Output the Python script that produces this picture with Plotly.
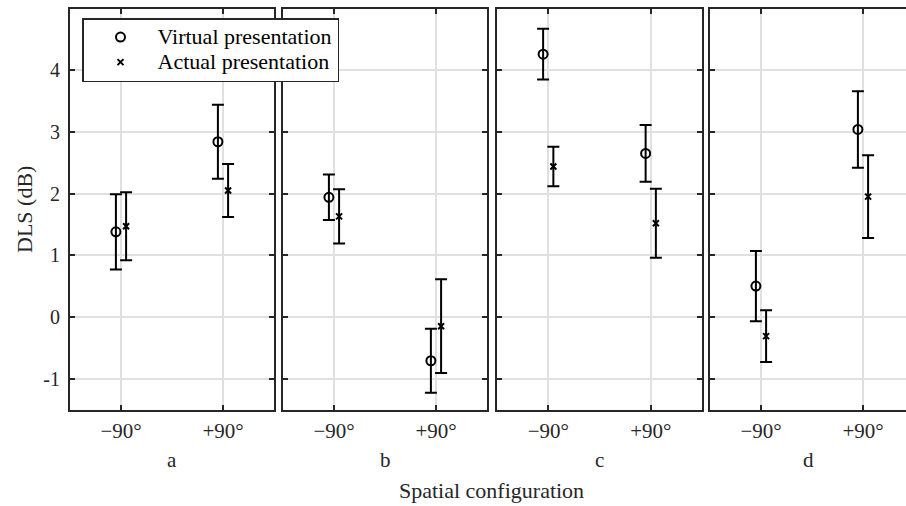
import plotly.graph_objects as go

panels = ["a", "b", "c", "d"]
positions = ["\u221290\u00b0", "+90\u00b0"]
virtual_mean = [[1.38, 2.84], [1.94, -0.71], [4.26, 2.65], [0.50, 3.04]]
virtual_err = [[0.61, 0.60], [0.37, 0.52], [0.41, 0.46], [0.57, 0.62]]
actual_mean = [[1.47, 2.05], [1.63, -0.15], [2.44, 1.52], [-0.31, 1.95]]
actual_err = [[0.55, 0.43], [0.44, 0.76], [0.32, 0.56], [0.42, 0.67]]
yticks = [-1, 0, 1, 2, 3, 4]
series_names = ["Virtual presentation", "Actual presentation"]

W, H = 906, 506
FONT = "Liberation Serif"
AX = "#262626"
GRID = "#e0e0e0"

# panel pixel boxes
px_left = [70, 283, 497, 710]
px_right = [274, 487, 702, 906]
dom_y = [1 - 409.5 / H, 1 - 8.5 / H]


def big(s):
    return "<span style='font-size:22px'>" + s + "</span>"


fig = go.Figure()
base_x = [1, 2]
for i, p in enumerate(panels):
    xa = "x" if i == 0 else f"x{i+1}"
    ya = "y" if i == 0 else f"y{i+1}"
    fig.add_trace(go.Scatter(
        x=[b - 0.05 for b in base_x], y=virtual_mean[i],
        error_y=dict(type="data", array=virtual_err[i], color="black", thickness=2, width=6),
        mode="markers", marker=dict(symbol="circle-open", size=9, color="black", line=dict(width=2)),
        name=big(series_names[0]), legendgroup="v", showlegend=(i == 0),
        xaxis=xa, yaxis=ya))
    fig.add_trace(go.Scatter(
        x=[b + 0.05 for b in base_x], y=actual_mean[i],
        error_y=dict(type="data", array=actual_err[i], color="black", thickness=2, width=6),
        mode="markers", marker=dict(symbol="x-thin-open", size=6, color="black", line=dict(width=2)),
        name=big(series_names[1]), legendgroup="a", showlegend=(i == 0),
        xaxis=xa, yaxis=ya))

layout = dict(
    width=W, height=H, margin=dict(l=0, r=0, t=0, b=0),
    paper_bgcolor="white", plot_bgcolor="white",
    font=dict(family=FONT, size=21, color=AX),
    showlegend=True,
    legend=dict(x=82 / W, y=1 - 18 / H, xanchor="left", yanchor="top",
                bgcolor="white", bordercolor=AX, borderwidth=1.5,
                font=dict(family=FONT, size=17, color="black"),
                itemwidth=64, tracegroupgap=0),
)
annotations = []
for i, p in enumerate(panels):
    sfx = "" if i == 0 else str(i + 1)
    xr = [0.5, 2.5] if i < 3 else [0.5, 0.5 + (px_right[i] - px_left[i]) / 102.0]
    layout["xaxis" + sfx] = dict(
        domain=[px_left[i] / W, px_right[i] / W], range=xr, anchor="y" + sfx,
        tickvals=base_x, ticktext=positions, ticks="inside", ticklen=5, tickwidth=2,
        tickcolor=AX, showline=True, linecolor=AX, linewidth=2, mirror="ticks",
        showgrid=True, gridcolor=GRID, gridwidth=1.5, zeroline=False,
        ticklabelstandoff=1,
        tickfont=dict(family=FONT, size=21, color=AX), fixedrange=True)
    layout["yaxis" + sfx] = dict(
        domain=dom_y, range=[-1.5, 5], anchor="x" + sfx,
        tickvals=yticks, ticktext=[str(v) for v in yticks] if i == 0 else None,
        showticklabels=(i == 0),
        ticks="inside", ticklen=5, tickwidth=2, tickcolor=AX,
        showline=True, linecolor=AX, linewidth=2, mirror=("ticks" if i < 3 else False),
        showgrid=True, gridcolor=GRID, gridwidth=1.5, zeroline=False,
        ticklabelstandoff=4,
        tickfont=dict(family=FONT, size=20, color=AX), fixedrange=True)
    annotations.append(dict(text=p, x=0.5, xref=f"x{sfx} domain", y=1 - 460 / H, yref="paper",
                            showarrow=False, font=dict(family=FONT, size=21, color=AX),
                            xanchor="center", yanchor="middle"))
annotations.append(dict(text="Spatial configuration", x=491 / W, xref="paper", y=1 - 490 / H,
                        yref="paper", showarrow=False, font=dict(family=FONT, size=22, color=AX),
                        xanchor="center", yanchor="middle"))
annotations.append(dict(text="DLS (dB)", x=24 / W, xref="paper", y=1 - 210 / H, yref="paper",
                        textangle=-90, showarrow=False, font=dict(family=FONT, size=22, color=AX),
                        xanchor="center", yanchor="middle"))
layout["annotations"] = annotations
fig.update_layout(**layout)
fig.write_html("out.html")
